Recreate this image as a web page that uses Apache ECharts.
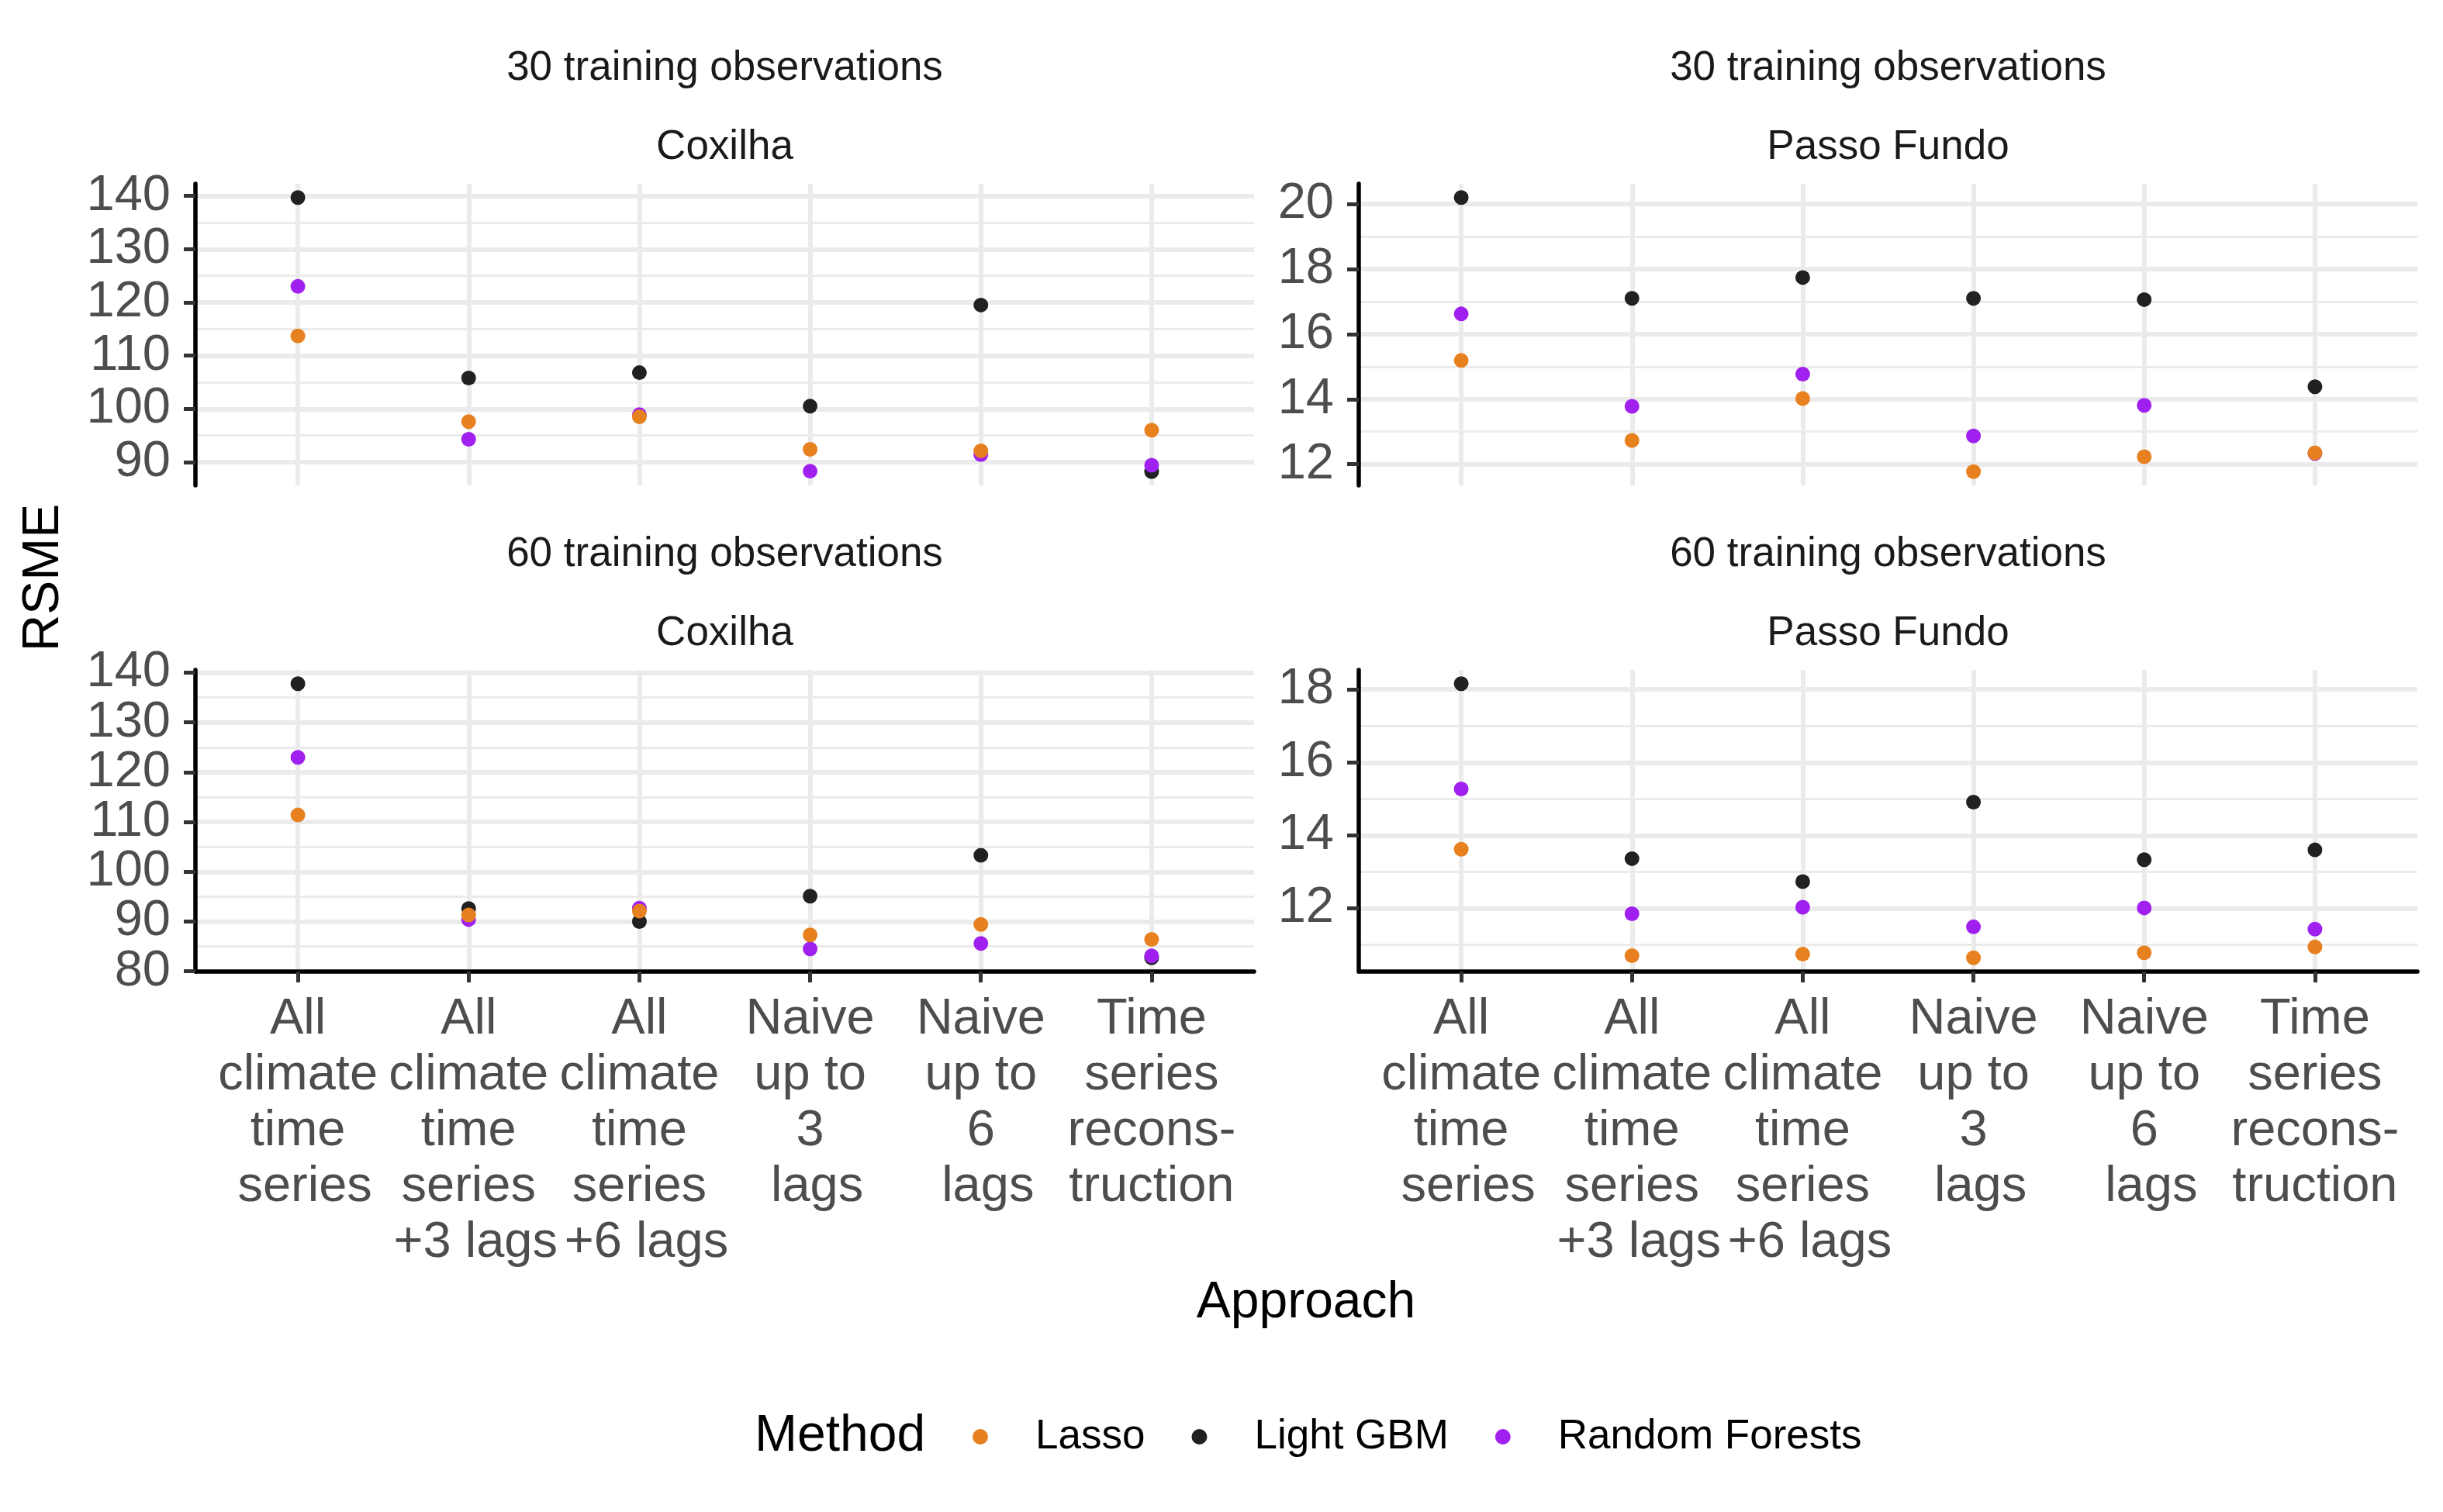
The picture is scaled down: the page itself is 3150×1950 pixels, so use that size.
<!DOCTYPE html>
<html>
<head>
<meta charset="utf-8">
<script src="https://cdn.jsdelivr.net/npm/echarts@6/dist/echarts.min.js"></script>
<style>html,body{margin:0;padding:0;background:#fff}#c{width:3150px;height:1950px}</style>
</head>
<body>
<div id="c"></div>
<script>
// ---------- data ----------
const categories = [
  'All\nclimate\ntime\n series',
  'All\nclimate\ntime\nseries\n +3 lags',
  'All\nclimate\ntime\nseries\n +6 lags',
  'Naive\nup to\n3\n lags',
  'Naive\nup to\n6\n lags',
  'Time\nseries\nrecons-\ntruction'
];
const methods = ['Lasso', 'Light GBM', 'Random Forests'];
const methodColors = ['#E7801F', '#212121', '#A020F0'];

const topStrips = ['30 training observations', '30 training observations', '60 training observations', '60 training observations'];
const siteStrips = ['Coxilha', 'Passo Fundo', 'Coxilha', 'Passo Fundo'];

// Coxilha, 30 obs
const lassoCox30 = [113.7, 97.6, 98.5, 92.4, 92.1, 96.0];
const lgbmCox30  = [139.7, 105.8, 106.8, 100.5, 119.5, 88.2];
const rfCox30    = [123.0, 94.3, 98.9, 88.3, 91.4, 89.4];
// Passo Fundo, 30 obs
const lassoPF30 = [15.19, 12.73, 14.02, 11.77, 12.23, 12.35];
const lgbmPF30  = [20.20, 17.10, 17.74, 17.10, 17.06, 14.38];
const rfPF30    = [16.62, 13.78, 14.77, 12.87, 13.81, 12.33];
// Coxilha, 60 obs
const lassoCox60 = [111.4, 91.3, 92.1, 87.3, 89.4, 86.4];
const lgbmCox60  = [137.8, 92.6, 90.0, 95.1, 103.3, 82.7];
const rfCox60    = [123.0, 90.4, 92.7, 84.5, 85.6, 83.1];
// Passo Fundo, 60 obs
const lassoPF60 = [13.62, 10.70, 10.74, 10.64, 10.78, 10.94];
const lgbmPF60  = [18.16, 13.36, 12.73, 14.91, 13.33, 13.60];
const rfPF60    = [15.27, 11.85, 12.03, 11.49, 12.01, 11.43];

// y tick labels (major) and minor grid positions
const yMajorCox30 = [90, 100, 110, 120, 130, 140];
const yMinorCox30 = [95, 105, 115, 125, 135];
const yMajorPF30 = [12, 14, 16, 18, 20];
const yMinorPF30 = [13, 15, 17, 19];
const yMajorCox60 = [80, 90, 100, 110, 120, 130, 140];
const yMinorCox60 = [85, 95, 105, 115, 125, 135];
const yMajorPF60 = [12, 14, 16, 18];
const yMinorPF60 = [11, 13, 15, 17];

const xTickIdx = [0, 1, 2, 3, 4, 5];

// ---------- layout ----------
const panels = [
  {left: 252,  top: 237, vals: [lassoCox30, lgbmCox30, rfCox30], major: yMajorCox30, minor: yMinorCox30, bottom: false},
  {left: 1752, top: 237, vals: [lassoPF30, lgbmPF30, rfPF30],    major: yMajorPF30,  minor: yMinorPF30,  bottom: false},
  {left: 252,  top: 864, vals: [lassoCox60, lgbmCox60, rfCox60], major: yMajorCox60, minor: yMinorCox60, bottom: true},
  {left: 1752, top: 864, vals: [lassoPF60, lgbmPF60, rfPF60],    major: yMajorPF60,  minor: yMinorPF60,  bottom: true}
];
const PW = 1365, PH = 389;
const FONT = '"Liberation Sans", Arial, sans-serif';
const GRID = '#EBEBEB';

// ggplot-style 5% expansion of the data range
function expandedRange(arrs) {
  const all = [].concat(...arrs);
  const lo = Math.min(...all), hi = Math.max(...all);
  const pad = 0.05 * (hi - lo);
  return [lo - pad, hi + pad];
}

const grid = [], xAxis = [], yAxis = [], series = [], graphic = [];
const yLabelStyle = {fontFamily: FONT, fontSize: 65, color: '#4D4D4D', margin: 32, lineHeight: 40, padding: [8, 0, 0, 0],
  showMinLabel: true, showMaxLabel: true, hideOverlap: false};

panels.forEach((p, k) => {
  const [ymin, ymax] = expandedRange(p.vals);
  grid.push({left: p.left, top: p.top, width: PW, height: PH, containLabel: false});
  xAxis.push({
    type: 'value', gridIndex: k, min: -0.6, max: 5.6, z: 3,
    splitLine: {show: false},
    axisLine: {show: p.bottom, onZero: false, lineStyle: {color: '#000', width: 5.5}},
    axisTick: {show: p.bottom, customValues: xTickIdx, length: 14, lineStyle: {color: '#333', width: 5}},
    axisLabel: {
      show: p.bottom, customValues: xTickIdx, margin: 26, hideOverlap: false,
      fontFamily: FONT, fontSize: 65, lineHeight: 72, color: '#4D4D4D',
      formatter: (v) => categories[Math.round(v)]
    }
  });
  // main y axis (line, ticks, every other label) and a companion axis with the remaining labels
  yAxis.push({
    type: 'value', gridIndex: k, z: 3, min: ymin, max: ymax,
    splitLine: {show: false},
    axisLine: {show: true, onZero: false, lineStyle: {color: '#000', width: 5.5}},
    axisTick: {show: true, customValues: p.major, length: 15, lineStyle: {color: '#333', width: 5}},
    axisLabel: Object.assign({show: true, customValues: p.major.filter((_, i) => i % 2 === 0)}, yLabelStyle)
  });
  yAxis.push({
    type: 'value', gridIndex: k, z: 3, min: ymin, max: ymax, position: 'left', offset: 0,
    splitLine: {show: false},
    axisLine: {show: false},
    axisTick: {show: false},
    axisLabel: Object.assign({show: true, customValues: p.major.filter((_, i) => i % 2 === 1)}, yLabelStyle)
  });
  // draw order: Light GBM, Random Forests, Lasso (Lasso on top)
  const order = [1, 2, 0];
  order.forEach((m, j) => {
    const s = {
      type: 'scatter', name: methods[m], xAxisIndex: k, yAxisIndex: 2 * k,
      data: p.vals[m].map((v, i) => [i, v]),
      symbol: 'circle', symbolSize: 19, z: 2,
      itemStyle: {color: methodColors[m], opacity: 1},
      emphasis: {disabled: true}
    };
    if (j === 0) {
      const lines = [];
      p.minor.forEach(v => lines.push({yAxis: v, lineStyle: {width: 3, color: GRID, type: 'solid'}}));
      p.major.forEach(v => lines.push({yAxis: v, lineStyle: {width: 6, color: GRID, type: 'solid'}}));
      xTickIdx.forEach(v => lines.push({xAxis: v, lineStyle: {width: 6, color: GRID, type: 'solid'}}));
      s.markLine = {silent: true, z: 1, symbol: ['none', 'none'], label: {show: false}, animation: false, data: lines};
    }
    series.push(s);
  });
  const cx = p.left + PW / 2;
  graphic.push({type: 'text', x: cx, y: p.top - 149, style: {text: topStrips[k], font: '53px ' + FONT, fill: '#1A1A1A', align: 'center', verticalAlign: 'middle'}});
  graphic.push({type: 'text', x: cx, y: p.top - 47, style: {text: siteStrips[k], font: '53px ' + FONT, fill: '#1A1A1A', align: 'center', verticalAlign: 'middle'}});
});

graphic.push({type: 'text', x: 57, y: 745, rotation: Math.PI / 2, style: {text: 'RSME', font: '66px ' + FONT, fill: '#000', align: 'center', verticalAlign: 'middle'}});
graphic.push({type: 'text', x: 1684, y: 1681, style: {text: 'Approach', font: '66px ' + FONT, fill: '#000', align: 'center', verticalAlign: 'middle'}});
graphic.push({type: 'text', x: 973, y: 1853, style: {text: 'Method', font: '66px ' + FONT, fill: '#000', align: 'left', verticalAlign: 'middle'}});

const chart = echarts.init(document.getElementById('c'), null, {renderer: 'canvas'});
chart.setOption({
  backgroundColor: '#fff',
  animation: false,
  grid, xAxis, yAxis, series, graphic,
  legend: {
    data: methods, left: 1254, top: 1823, padding: 0,
    orient: 'horizontal', icon: 'circle',
    itemWidth: 20, itemHeight: 20, itemGap: 60,
    textStyle: {fontFamily: FONT, fontSize: 53, lineHeight: 60, color: '#000', padding: [0, 0, 0, 56]},
    selectedMode: false
  }
});
</script>
</body>
</html>
